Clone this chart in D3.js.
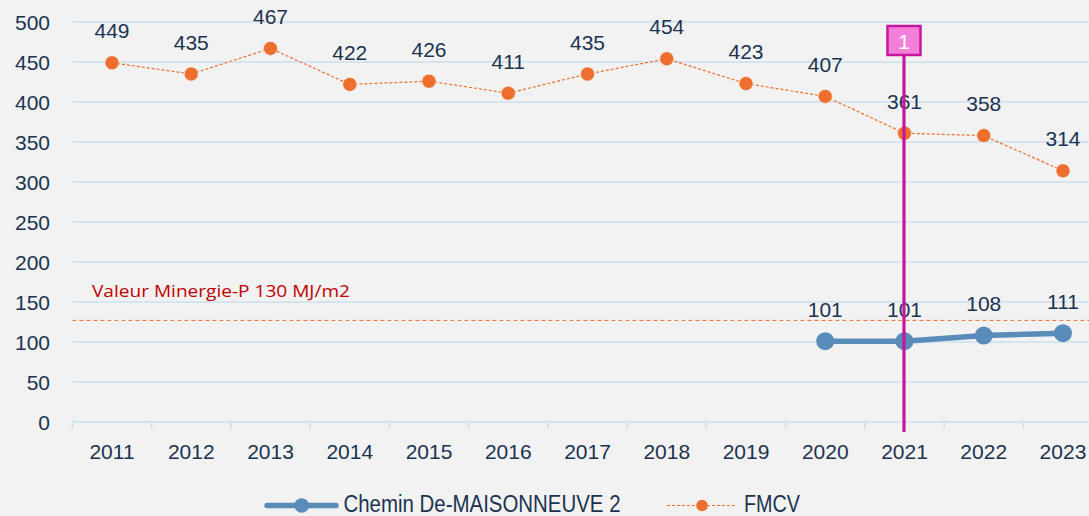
<!DOCTYPE html>
<html><head><meta charset="utf-8">
<script src="https://cdn.jsdelivr.net/npm/d3@7"></script>
<style>
html,body{margin:0;padding:0;background:#f2f2f2;overflow:hidden}
svg{display:block}
</style></head><body>
<svg id="c" width="1089" height="516"></svg>
<script>
const years = ["2011","2012","2013","2014","2015","2016","2017","2018","2019","2020","2021","2022","2023"];
const fmcv = [449,435,467,422,426,411,435,454,423,407,361,358,314];
const chemin = [null,null,null,null,null,null,null,null,null,101,101,108,111];
const yTicks = [0,50,100,150,200,250,300,350,400,450,500];
const refValue = 127;
const refLabel = "Valeur Minergie-P 130 MJ/m2";
const markerYear = "2021";
const markerLabel = "1";
const seriesNames = ["Chemin De-MAISONNEUVE 2","FMCV"];

const F = "'Liberation Sans',Arial,sans-serif";
const svg = d3.select("#c").style("font-family",F);
const W = 1089, H = 516;
svg.append("rect").attr("width",W).attr("height",H).attr("fill","#f2f2f2");

const x = d3.scaleBand().domain(years).range([72.4, 1102.6]).padding(0);
const y = d3.scaleLinear().domain([0,500]).range([422,22]);
const cx = d => x(d) + x.bandwidth()/2;
const navy = "#1b3350";
const grid = "#cddff2";
const orange = "#ee6f2d";
const blue = "#5a8cba";
const FS = 21;

// grid
svg.append("g").selectAll("line").data(yTicks).join("line")
  .attr("x1",72.4).attr("x2",W).attr("y1",d=>y(d)).attr("y2",d=>y(d))
  .attr("stroke",grid).attr("stroke-width",1.5);

// y labels
svg.append("g").selectAll("text").data(yTicks).join("text")
  .attr("x",50).attr("y",d=>y(d)+8).attr("text-anchor","end")
  .attr("font-size",FS).attr("fill",navy).text(d=>d);

// x axis ticks
const xb = years.map(d=>x(d)).concat([x(years[years.length-1])+x.bandwidth()]);
svg.append("g").selectAll("line").data(xb).join("line")
  .attr("x1",d=>d).attr("x2",d=>d).attr("y1",422).attr("y2",429)
  .attr("stroke",grid).attr("stroke-width",1.5);
svg.append("g").selectAll("text").data(years).join("text")
  .attr("x",d=>cx(d)).attr("y",459).attr("text-anchor","middle")
  .attr("font-size",FS).attr("fill",navy).text(d=>d);

// reference line
svg.append("line").attr("x1",72.4).attr("x2",W).attr("y1",y(refValue)).attr("y2",y(refValue))
  .attr("stroke",orange).attr("stroke-width",1).attr("stroke-dasharray","4,3");
svg.append("text").attr("x",92).attr("y",297).attr("font-size",17)
  .style("font-family","'Open Sans',sans-serif").attr("fill","#c00000")
  .attr("textLength",258).attr("lengthAdjust","spacingAndGlyphs").text(refLabel);

// FMCV series
const fData = years.map((d,i)=>({year:d,v:fmcv[i]}));
svg.append("path").datum(fData)
  .attr("d",d3.line().x(d=>cx(d.year)).y(d=>y(d.v)))
  .attr("fill","none").attr("stroke",orange).attr("stroke-width",1.2).attr("stroke-dasharray","3,2");
svg.append("g").selectAll("circle").data(fData).join("circle")
  .attr("cx",d=>cx(d.year)).attr("cy",d=>y(d.v)).attr("r",7).attr("fill",orange)
  .attr("stroke","#f5f0ec").attr("stroke-width",0.6);
svg.append("g").selectAll("text").data(fData).join("text")
  .attr("x",d=>cx(d.year)).attr("y",d=>y(d.v)-24.5).attr("text-anchor","middle")
  .attr("font-size",FS).attr("fill",navy).text(d=>d.v);

// Chemin series
const cData = years.map((d,i)=>({year:d,v:chemin[i]})).filter(d=>d.v!==null);
svg.append("path").datum(cData)
  .attr("d",d3.line().x(d=>cx(d.year)).y(d=>y(d.v)))
  .attr("fill","none").attr("stroke",blue).attr("stroke-width",5.5).attr("stroke-linecap","round");
svg.append("g").selectAll("circle").data(cData).join("circle")
  .attr("cx",d=>cx(d.year)).attr("cy",d=>y(d.v)).attr("r",9).attr("fill",blue);
svg.append("g").selectAll("text").data(cData).join("text")
  .attr("x",d=>cx(d.year)).attr("y",d=>y(d.v)-24.5).attr("text-anchor","middle")
  .attr("font-size",FS).attr("fill",navy).text(d=>d.v);

// marker line
const mx = cx(markerYear)-0.5;
svg.append("line").attr("x1",mx).attr("x2",mx).attr("y1",55).attr("y2",432)
  .attr("stroke","#c3189e").attr("stroke-width",3.2);
svg.append("rect").attr("x",mx-16.5).attr("y",26).attr("width",33).attr("height",29)
  .attr("fill","#f47fda").attr("stroke","#c3189e").attr("stroke-width",2.5);
svg.append("text").attr("x",mx).attr("y",49).attr("text-anchor","middle")
  .attr("font-size",FS).attr("fill","#ffffff").text(markerLabel);

// legend
const ly = 505.5;
svg.append("line").attr("x1",267).attr("x2",336).attr("y1",ly).attr("y2",ly)
  .attr("stroke",blue).attr("stroke-width",5.5).attr("stroke-linecap","round");
svg.append("circle").attr("cx",301.7).attr("cy",ly).attr("r",7.3).attr("fill",blue);
svg.append("text").attr("x",343.5).attr("y",511.5).attr("font-size",23).attr("fill",navy)
  .attr("textLength",277).attr("lengthAdjust","spacingAndGlyphs").text(seriesNames[0]);
svg.append("line").attr("x1",667).attr("x2",737).attr("y1",ly).attr("y2",ly)
  .attr("stroke",orange).attr("stroke-width",1.2).attr("stroke-dasharray","3,2");
svg.append("circle").attr("cx",702).attr("cy",ly).attr("r",5.8).attr("fill",orange);
svg.append("text").attr("x",744).attr("y",511.5).attr("font-size",23).attr("fill",navy)
  .attr("textLength",56).attr("lengthAdjust","spacingAndGlyphs").text(seriesNames[1]);
</script></body></html>
